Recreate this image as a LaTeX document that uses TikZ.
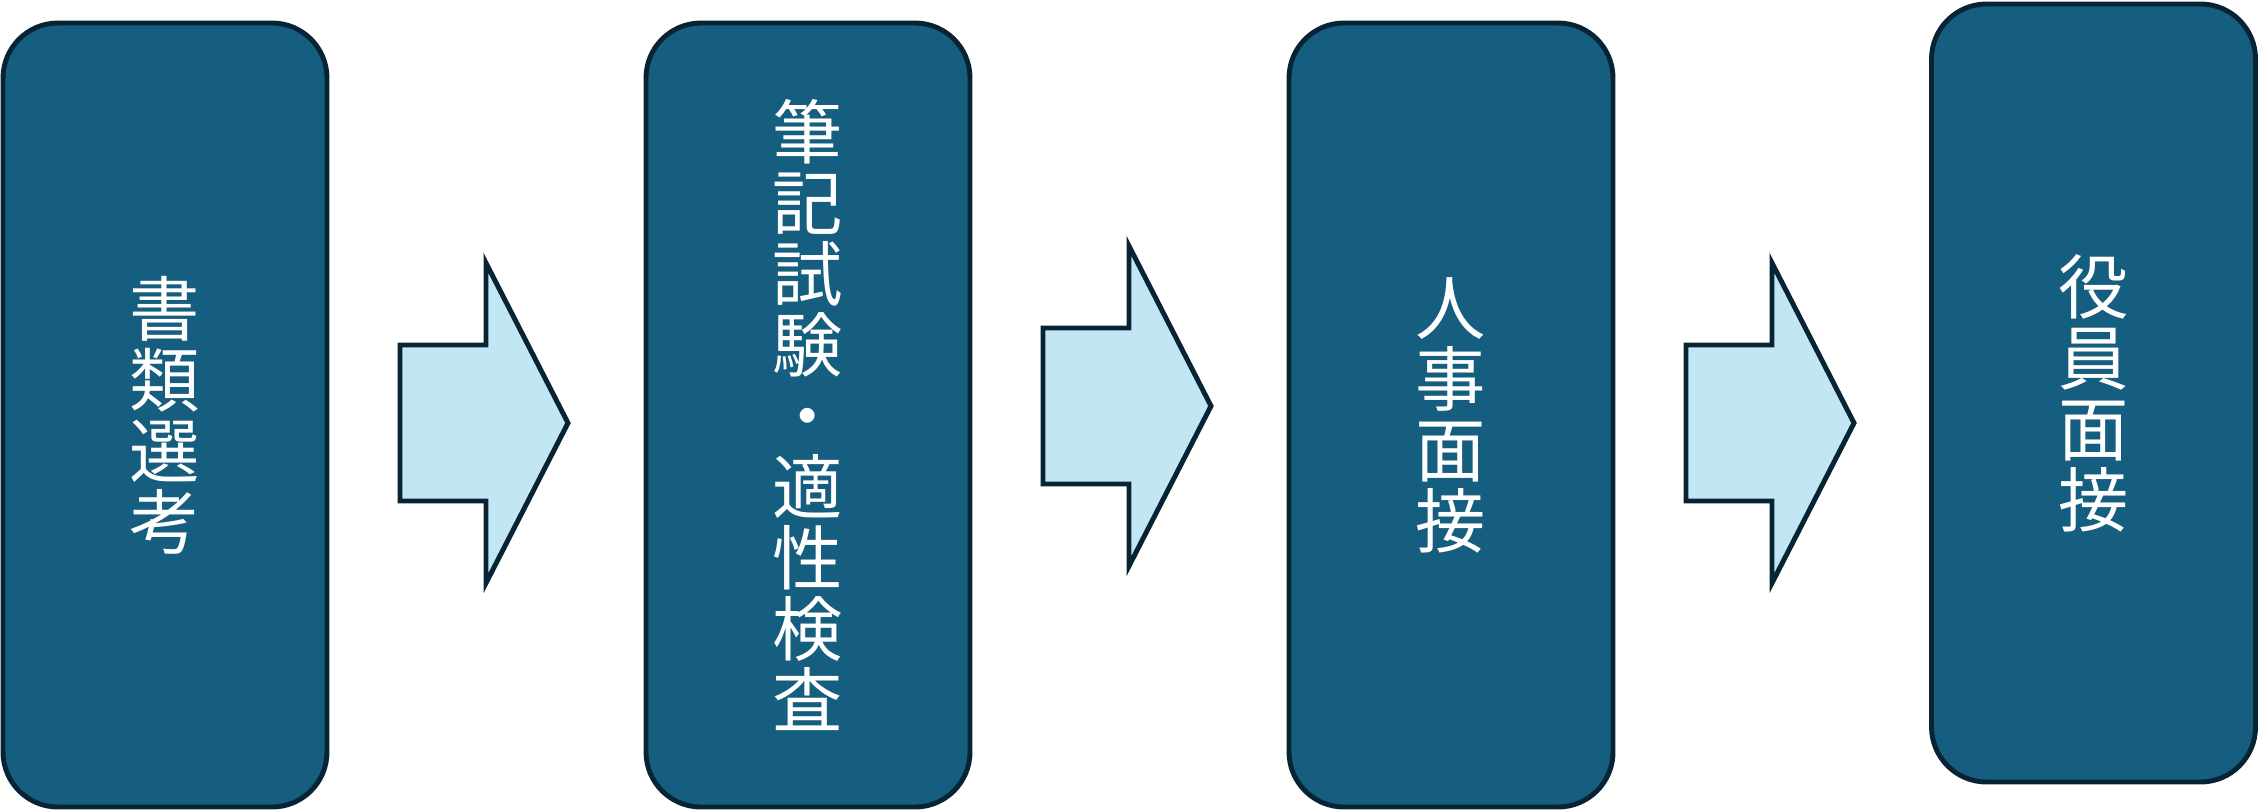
\documentclass[tikz,border=0pt]{standalone}
\usepackage{fontspec}
\newfontfamily\cjk{Noto Sans CJK JP}
\usepackage{tikz}
\definecolor{boxblue}{RGB}{22,94,128}
\definecolor{edgedark}{RGB}{8,36,52}
\definecolor{arrowblue}{RGB}{195,230,244}
\tikzset{
  stagebox/.style={draw=edgedark, line width=1.4pt, fill=boxblue, rounded corners=0.55cm,
    minimum width=3.24cm, minimum height=7.84cm, inner sep=0pt, align=center,
    text=white, font=\cjk\fontsize{20}{20.2}\selectfont},
  blockarrow/.style={draw=edgedark, line width=1.4pt, fill=arrowblue}
}
\begin{document}
\begin{tikzpicture}
  \useasboundingbox (0,0) rectangle (22.58,8.10);
  \node[stagebox] (shorui) at (1.65,3.95) {書\\類\\選\\考};
  \node[stagebox] (hikki) at (8.08,3.95) {筆\\記\\試\\験\\・\\適\\性\\検\\査};
  \node[stagebox] (jinji) at (14.51,3.95) {人\\事\\面\\接};
  \node[stagebox, minimum height=7.78cm] (yakuin) at (20.935,4.17) {役\\員\\面\\接};
  \draw[blockarrow, shift={(4.00,3.87)}] (0,0.78) -- (0.86,0.78) -- (0.86,1.60) -- (1.68,0) -- (0.86,-1.60) -- (0.86,-0.78) -- (0,-0.78) -- cycle;
  \draw[blockarrow, shift={(10.43,4.04)}] (0,0.78) -- (0.86,0.78) -- (0.86,1.60) -- (1.68,0) -- (0.86,-1.60) -- (0.86,-0.78) -- (0,-0.78) -- cycle;
  \draw[blockarrow, shift={(16.86,3.87)}] (0,0.78) -- (0.86,0.78) -- (0.86,1.60) -- (1.68,0) -- (0.86,-1.60) -- (0.86,-0.78) -- (0,-0.78) -- cycle;
\end{tikzpicture}
\end{document}
